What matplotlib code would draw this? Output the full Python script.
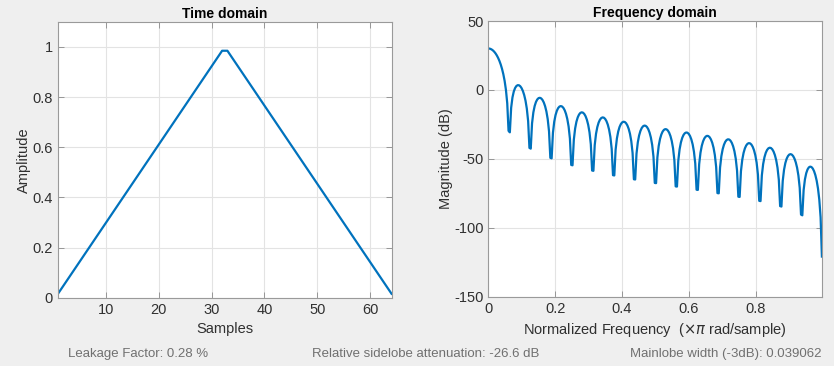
import numpy as np
import matplotlib
matplotlib.use("Agg")
import matplotlib.pyplot as plt
from matplotlib.ticker import FormatStrFormatter

plt.rcParams['font.family'] = ['Liberation Sans', 'DejaVu Sans']
plt.rcParams['axes.unicode_minus'] = False

# 64-point triangular window, in steps of 1/64
samples = list(range(1, 65))
amplitude_steps = [1, 3, 5, 7, 9, 11, 13, 15, 17, 19, 21, 23, 25, 27, 29, 31,
                   33, 35, 37, 39, 41, 43, 45, 47, 49, 51, 53, 55, 57, 59, 61, 63,
                   63, 61, 59, 57, 55, 53, 51, 49, 47, 45, 43, 41, 39, 37, 35, 33,
                   31, 29, 27, 25, 23, 21, 19, 17, 15, 13, 11, 9, 7, 5, 3, 1]
full_scale = 64
nfft = 1024

time_ticks = [10, 20, 30, 40, 50, 60]
amp_ticks = [0, 0.2, 0.4, 0.6, 0.8, 1]
freq_ticks = [0, 0.2, 0.4, 0.6, 0.8]
db_ticks = [-150, -100, -50, 0, 50]

stats = ["Leakage Factor: 0.28 %",
         "Relative sidelobe attenuation: -26.6 dB",
         "Mainlobe width (-3dB): 0.039062"]

window = np.array(amplitude_steps, dtype=float) / full_scale
# odd bins of the zero-padded FFT -> frequencies (2m+1)/512 in units of pi
spec = np.fft.fft(window, nfft)[1:nfft // 2:2]
freq = np.arange(1, nfft // 2, 2) / (nfft // 2)
mag_db = 20 * np.log10(np.abs(spec))

blue = '#0072BD'
txt = '#303030'

fig = plt.figure(figsize=(8.34, 3.66), dpi=100)
fig.patch.set_facecolor('#efefef')

ax1 = fig.add_axes([0.0695, 0.1866, 0.400, 0.754])
ax2 = fig.add_axes([0.5855, 0.1886, 0.400, 0.754])


def style(ax):
    ax.set_facecolor('white')
    ax.grid(True, color='#e3e3e3', linewidth=0.8)
    ax.set_axisbelow(True)
    for s in ax.spines.values():
        s.set_color('#9a9a9a')
        s.set_linewidth(0.8)
    ax.tick_params(direction='in', length=4, width=0.6, color='#8a8a8a',
                   labelcolor=txt, labelsize=10.5, top=True, right=True)


ax1.plot(samples, window, color=blue, linewidth=1.6)
style(ax1)
ax1.set_xlim(1, 64)
ax1.set_ylim(0, 1.1)
ax1.set_xticks(time_ticks)
ax1.set_yticks(amp_ticks)
ax1.yaxis.set_major_formatter(FormatStrFormatter('%g'))
ax1.set_title('Time domain', fontsize=10, fontweight='bold', color='black', pad=3)
ax1.set_xlabel('Samples', fontsize=10.5, color=txt, labelpad=4)
ax1.set_ylabel('Amplitude', fontsize=10.5, color=txt, labelpad=1)

ax2.plot(freq, mag_db, color=blue, linewidth=1.6)
style(ax2)
ax2.set_xlim(0, freq[-1])
ax2.set_ylim(-150, 50)
ax2.set_xticks(freq_ticks)
ax2.set_yticks(db_ticks)
ax2.xaxis.set_major_formatter(FormatStrFormatter('%g'))
ax2.set_title('Frequency domain', fontsize=10, fontweight='bold', color='black', pad=3)
ax2.set_xlabel('Normalized Frequency  ($\\times\\pi$ rad/sample)', fontsize=10.5,
               color=txt, labelpad=4)
ax2.set_ylabel('Magnitude (dB)', fontsize=10.5, color=txt, labelpad=1)

fig.text(68 / 834, 0.033, stats[0], ha='left', va='center', fontsize=9.5, color='#707070')
fig.text(426 / 834, 0.033, stats[1], ha='center', va='center', fontsize=9.5, color='#707070')
fig.text(822 / 834, 0.033, stats[2], ha='right', va='center', fontsize=9.5, color='#707070')

fig.savefig('out.png', dpi=100, facecolor=fig.get_facecolor())
